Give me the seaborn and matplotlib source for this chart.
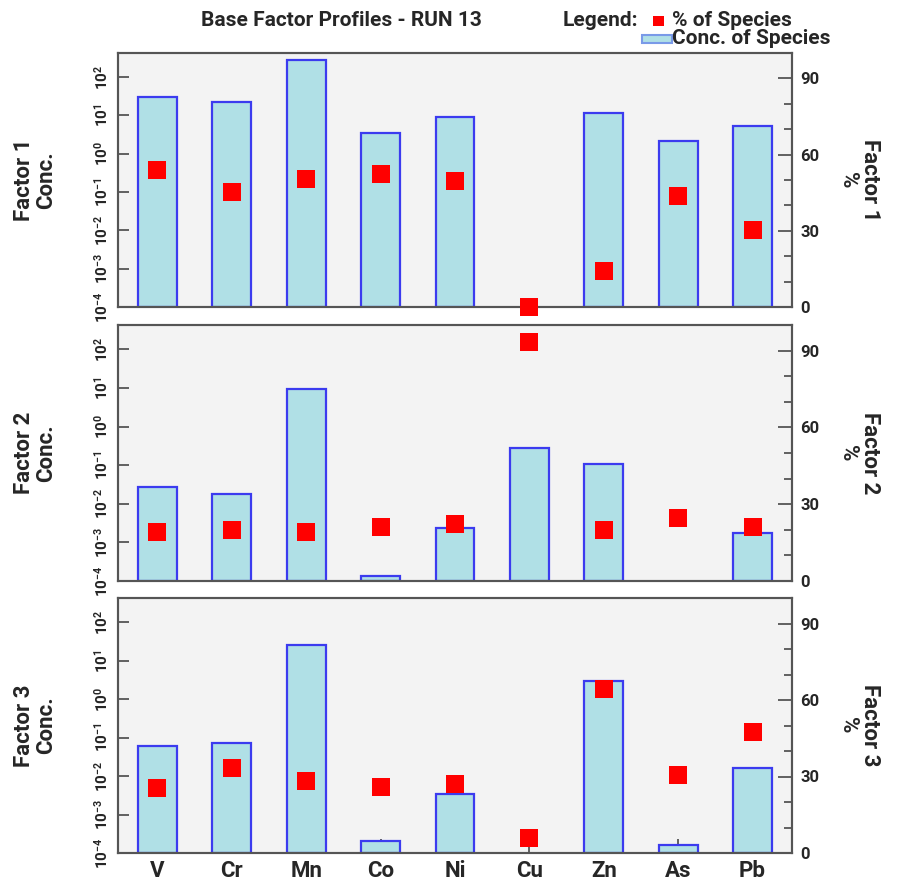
import numpy as np
import pandas as pd
import matplotlib
matplotlib.use("Agg")
import matplotlib.pyplot as plt
import seaborn as sns
from matplotlib.patches import Rectangle
from matplotlib.ticker import NullLocator, FixedLocator, MultipleLocator

# ---------------- data ----------------
elements = ["V", "Cr", "Mn", "Co", "Ni", "Cu", "Zn", "As", "Pb"]
conc_f1 = [31, 22, 288, 3.4, 9.1, np.nan, 11.8, 2.2, 5.2]
conc_f2 = [0.027, 0.018, 9.4, 1.35e-4, 0.0024, 0.28, 0.105, np.nan, 0.0018]
conc_f3 = [0.059, 0.071, 26, 2.1e-4, 0.0035, np.nan, 2.9, 1.6e-4, 0.016]
pct_f1 = [54.1, 45.3, 50.5, 52.3, 49.5, 0.0, 14.2, 43.7, 30.2]
pct_f2 = [19.3, 20.0, 19.3, 21.1, 22.4, 93.5, 20.0, 24.5, 21.1]
pct_f3 = [25.5, 33.4, 28.1, 26.0, 27.0, 5.9, 64.5, 30.6, 47.3]
factor_names = ["Factor 1", "Factor 2", "Factor 3"]
log_ticks = [1e-4, 1e-3, 1e-2, 1e-1, 1e0, 1e1, 1e2]
log_tick_labels = [r"$10^{-4}$", r"$10^{-3}$", r"$10^{-2}$", r"$10^{-1}$",
                   r"$10^{0}$", r"$10^{1}$", r"$10^{2}$"]
pct_ticks = [0, 30, 60, 90]
title = "Base Factor Profiles - RUN 13"

# ---------------- style ----------------
sns.set_style("ticks")
plt.rcParams["font.family"] = ["Roboto", "DejaVu Sans"]
plt.rcParams["mathtext.fontset"] = "custom"
plt.rcParams["mathtext.rm"] = "Roboto:bold"
plt.rcParams["mathtext.default"] = "rm"

bar_face = "#b0e0e6"
bar_edge = "#3b3bef"
spine_c = "#555555"
bg = "#f3f3f3"

W_PX, H_PX = 901, 884
fig = plt.figure(figsize=(W_PX / 100, H_PX / 100), dpi=100)
L, R = 118, 792
panel_px = [(53, 307), (325, 581), (598, 853)]
concs = [conc_f1, conc_f2, conc_f3]
pcts = [pct_f1, pct_f2, pct_f3]
y_lo, y_hi = 1e-4, 10 ** 2.63

for i in range(3):
    top, bot = panel_px[i]
    ax = fig.add_axes([L / W_PX, 1 - bot / H_PX, (R - L) / W_PX, (bot - top) / H_PX])
    ax.set_facecolor(bg)
    df = pd.DataFrame({"element": elements, "conc": concs[i], "pct": pcts[i]})
    sns.barplot(data=df, x="element", y="conc", order=elements, ax=ax,
                color=bar_face, edgecolor=bar_edge, linewidth=1.6, width=0.52,
                saturation=1, errorbar=None, log_scale=True)
    # bars on a log axis: start them at the bottom of the axis
    for p in ax.patches:
        h_top = p.get_y() + p.get_height()
        if np.isfinite(h_top):
            p.set_y(y_lo)
            p.set_height(h_top - y_lo)
    ax.set_ylim(y_lo, y_hi)
    ax.yaxis.set_major_locator(FixedLocator(log_ticks))
    ax.yaxis.set_minor_locator(NullLocator())
    ax.set_yticklabels(log_tick_labels)
    ax.tick_params(axis="y", which="major", direction="in", length=8, width=1.3,
                   color=spine_c, labelsize=11, pad=5, labelrotation=90)
    for lab in ax.get_yticklabels():
        lab.set_va("center")

    ax2 = ax.twinx()
    sns.stripplot(data=df, x="element", y="pct", order=elements, ax=ax2,
                  jitter=False, marker="s", size=13, color="#ff0000",
                  linewidth=0, clip_on=False, zorder=5)
    ax2.set_ylim(0, 100)
    ax2.yaxis.set_major_locator(FixedLocator(pct_ticks))
    ax2.yaxis.set_minor_locator(MultipleLocator(10))
    ax2.tick_params(axis="y", which="major", direction="in", length=10, width=1.3,
                    color=spine_c, labelsize=12, pad=6)
    ax2.tick_params(axis="y", which="minor", direction="in", length=6, width=1.3,
                    color=spine_c)
    for lab in ax2.get_yticklabels():
        lab.set_fontweight("bold")

    ax.set_xlim(-0.53, 8.53)
    ax.set_xlabel("")
    if i < 2:
        ax.tick_params(axis="x", length=0, labelbottom=False)
    else:
        ax.tick_params(axis="x", direction="in", length=10, width=1.3,
                       color=spine_c, labelsize=16, pad=5)
        for lab in ax.get_xticklabels():
            lab.set_fontweight("bold")

    for a in (ax, ax2):
        for s in a.spines.values():
            s.set_visible(True)
            s.set_color(spine_c)
            s.set_linewidth(1.5)

    ax.set_ylabel(f"{factor_names[i]}\nConc.", fontsize=16, fontweight="bold",
                  linespacing=1.0)
    ax.yaxis.set_label_coords(-0.09, 0.5)
    ax2.set_ylabel(f"{factor_names[i]}\n%", fontsize=16, fontweight="bold",
                   rotation=270, va="bottom", linespacing=1.0)
    ax2.yaxis.set_label_coords(1.067, 0.5)

# ---------------- title & legend ----------------
fig.text(341 / W_PX, 1 - 21 / H_PX, title, ha="center", va="center",
         fontsize=15, fontweight="bold")
fig.text(638 / W_PX, 1 - 20 / H_PX, "Legend:", ha="right", va="center",
         fontsize=15, fontweight="bold")
fig.patches.append(Rectangle((653 / W_PX, 1 - 26 / H_PX), 11 / W_PX, 10 / H_PX,
                             transform=fig.transFigure, facecolor="#ff0000",
                             edgecolor="none"))
fig.text(672 / W_PX, 1 - 20 / H_PX, "% of Species", ha="left", va="center",
         fontsize=15, fontweight="bold")
fig.patches.append(Rectangle((642 / W_PX, 1 - 43 / H_PX), 30 / W_PX, 8 / H_PX,
                             transform=fig.transFigure, facecolor=bar_face,
                             edgecolor="#7a9ae8", linewidth=1.5))
fig.text(672 / W_PX, 1 - 39 / H_PX, "Conc. of Species", ha="left", va="center",
         fontsize=15, fontweight="bold")

fig.savefig("out.png", dpi=100, facecolor="white")
